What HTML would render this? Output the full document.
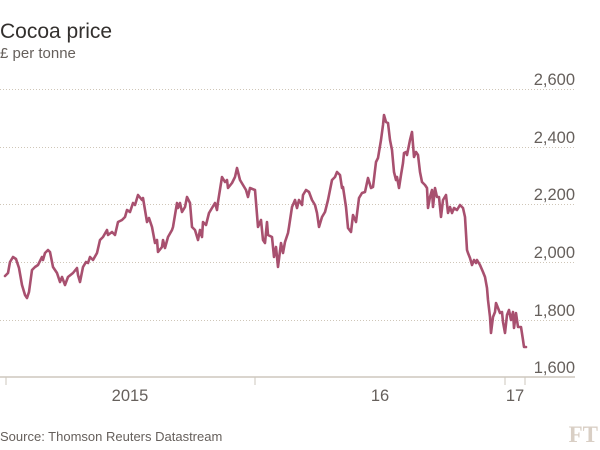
<!DOCTYPE html>
<html>
<head>
<meta charset="utf-8">
<style>
  html,body{margin:0;padding:0;background:#fff;}
  body{width:600px;height:450px;overflow:hidden;}
  svg{display:block;}
  text{font-family:"Liberation Sans",sans-serif;}
</style>
</head>
<body>
<svg width="600" height="450" viewBox="0 0 600 450" xmlns="http://www.w3.org/2000/svg">
  <rect width="600" height="450" fill="#fff"/>
  <text x="0" y="38" font-size="21" fill="#33302e">Cocoa price</text>
  <text x="0" y="58" font-size="15" fill="#66605c">£ per tonne</text>

  <g stroke="#cfc6b8" stroke-width="1" stroke-dasharray="1,2">
    <line x1="0" y1="89.5" x2="575" y2="89.5"/>
    <line x1="0" y1="147.5" x2="575" y2="147.5"/>
    <line x1="0" y1="204.5" x2="575" y2="204.5"/>
    <line x1="0" y1="262.5" x2="575" y2="262.5"/>
    <line x1="0" y1="320.5" x2="575" y2="320.5"/>
  </g>

  <g font-size="16.5" fill="#66605c" text-anchor="end">
    <text x="575" y="85">2,600</text>
    <text x="575" y="143">2,400</text>
    <text x="575" y="200">2,200</text>
    <text x="575" y="258">2,000</text>
    <text x="575" y="316">1,800</text>
    <text x="575" y="373">1,600</text>
  </g>

  <line x1="0" y1="377" x2="575" y2="377" stroke="#cdc7be" stroke-width="1.5"/>
  <g stroke="#cdc7be" stroke-width="1">
    <line x1="6" y1="377" x2="6" y2="385"/>
    <line x1="255" y1="377" x2="255" y2="385"/>
    <line x1="505" y1="377" x2="505" y2="385"/>
    <line x1="525" y1="377" x2="525" y2="385"/>
  </g>

  <g font-size="16.5" fill="#66605c" text-anchor="middle">
    <text x="130" y="401">2015</text>
    <text x="380" y="401">16</text>
    <text x="515" y="401">17</text>
  </g>

  <polyline fill="none" stroke="#a8506f" stroke-width="2.6" stroke-linejoin="round" stroke-linecap="round"
    points="5,276 8,273 10,262 13,257 16,259 19,268 22,285 25,295 27,298 29,292 32,270 35,267 38,265 42,257 43,260 45,253 48,250 50,252 53,267 57,273 60,282 62,277 65,285 68,277 73,273 77,268 78,275 80,282 83,267 86,262 88,263 90,257 93,260 97,253 100,240 103,237 107,230 108,235 112,232 115,235 118,222 122,220 125,217 127,210 130,212 133,203 135,205 138,195 142,200 143,198 147,222 149,218 152,227 155,243 157,240 158,252 162,247 163,240 165,248 168,237 172,230 173,227 177,203 178,208 180,203 182,212 185,207 187,197 190,203 192,227 195,230 198,240 200,230 202,237 203,222 206,225 209,213 212,208 215,203 217,210 218,202 222,177 225,182 227,180 228,188 232,183 235,177 237,168 240,180 243,185 246,190 248,197 250,188 255,190 258,227 261,220 263,240 265,243 267,222 268,235 272,237 274,257 276,247 278,267 281,243 283,253 285,242 288,233 289,227 292,207 295,200 297,208 299,200 302,205 303,195 306,190 309,192 312,200 315,205 317,213 319,227 322,217 325,212 328,200 332,180 335,177 337,172 340,175 342,188 343,187 346,207 348,228 351,232 353,215 356,222 359,198 362,193 365,192 368,178 371,188 373,187 376,162 378,158 381,140 383,125 384,115 386,122 388,123 390,140 392,150 394,172 396,180 397,177 399,188 401,175 403,163 404,153 406,152 407,155 408,150 410,140 412,132 414,157 416,152 418,155 420,172 422,182 425,185 427,188 428,208 430,197 432,190 433,207 435,188 437,197 439,197 441,217 443,200 446,195 448,213 450,207 452,213 454,208 457,210 460,205 463,208 465,217 467,250 468,253 470,258 472,265 474,260 476,263 477,260 480,265 483,272 485,277 487,288 488,300 490,317 491,333 493,317 495,312 496,303 498,308 500,313 502,312 503,322 505,333 507,315 509,310 511,320 513,312 514,328 516,313 518,327 521,327 523,340 524,347 526,347"/>

  <text x="0" y="441" font-size="13" fill="#66605c">Source: Thomson Reuters Datastream</text>
  <text x="598" y="442" font-size="23" font-weight="bold" fill="#d9cfc5" text-anchor="end" font-family="Liberation Serif, serif" style="font-family:'Liberation Serif',serif">FT</text>
</svg>
</body>
</html>
